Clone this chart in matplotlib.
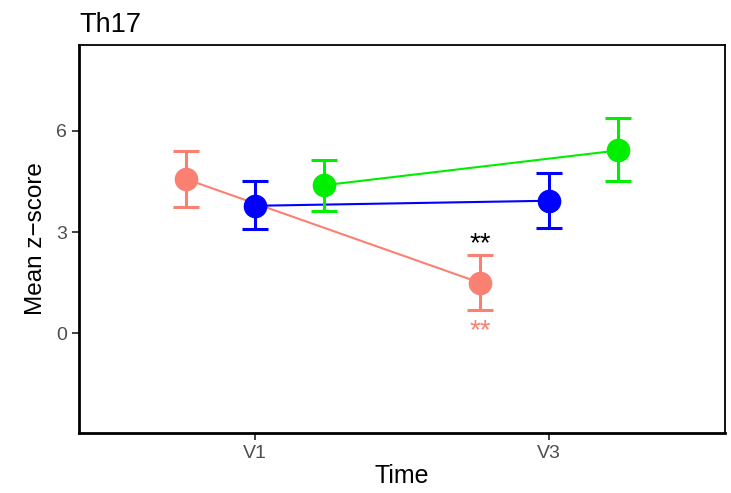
import numpy as np
from matplotlib import pyplot as plt

plt.rcParams['font.family'] = ['Liberation Sans', 'DejaVu Sans']

# data
time_labels = ['V1', 'V3']
group_colors = ['#FA8072', '#0000FF', '#00EE00']
group_offsets = [-0.235, 0.0, 0.235]

salmon_mean = [4.57, 1.50]
salmon_lo = [3.75, 0.68]
salmon_hi = [5.41, 2.33]

blue_mean = [3.78, 3.93]
blue_lo = [3.09, 3.12]
blue_hi = [4.52, 4.74]

green_mean = [4.39, 5.42]
green_lo = [3.62, 4.51]
green_hi = [5.14, 6.37]

means = [salmon_mean, blue_mean, green_mean]
lows = [salmon_lo, blue_lo, green_lo]
highs = [salmon_hi, blue_hi, green_hi]

# significance marks (placed on salmon V3)
sig_black_y = 2.65
sig_salmon_y = 0.05

fig = plt.figure(figsize=(7.31, 4.93), dpi=100)
ax = fig.add_axes([0.108, 0.122, 0.884, 0.787])

x = np.arange(1, len(time_labels) + 1)
for m, lo, hi, col, off in zip(means, lows, highs, group_colors, group_offsets):
    m = np.array(m)
    err = np.array([m - np.array(lo), np.array(hi) - m])
    xs = x + off
    ax.plot(xs, m, color=col, lw=1.5, zorder=2)
    ax.errorbar(xs, m, yerr=err, fmt='none', ecolor=col, elinewidth=2.2,
                capsize=9.5, capthick=2.2, zorder=3)
    ax.plot(xs, m, 'o', color=col, markersize=16, zorder=4)

ax.text(x[1] + group_offsets[0], sig_black_y, '**', color='black',
        ha='center', va='center', fontsize=20)
ax.text(x[1] + group_offsets[0], sig_salmon_y, '**', color='#FA8072',
        ha='center', va='center', fontsize=20)

ax.set_xlim(0.4, 2.6)
ax.set_ylim(-2.95, 8.55)
ax.set_xticks(x)
ax.set_xticklabels(time_labels)
ax.set_yticks([0, 3, 6])

for s in ax.spines.values():
    s.set_linewidth(1.3)
ax.spines['left'].set_linewidth(2)
ax.spines['bottom'].set_linewidth(2)

ax.tick_params(axis='both', colors='#333333', labelcolor='#4D4D4D',
               labelsize=14, length=5, width=1.3)
ax.set_xlabel('Time', fontsize=18, labelpad=2)
ax.set_ylabel('Mean z\u2212score', fontsize=17.5, labelpad=7)
ax.set_title('Th17', loc='left', fontsize=19.5, pad=9)

fig.savefig('out.png', dpi=100)
